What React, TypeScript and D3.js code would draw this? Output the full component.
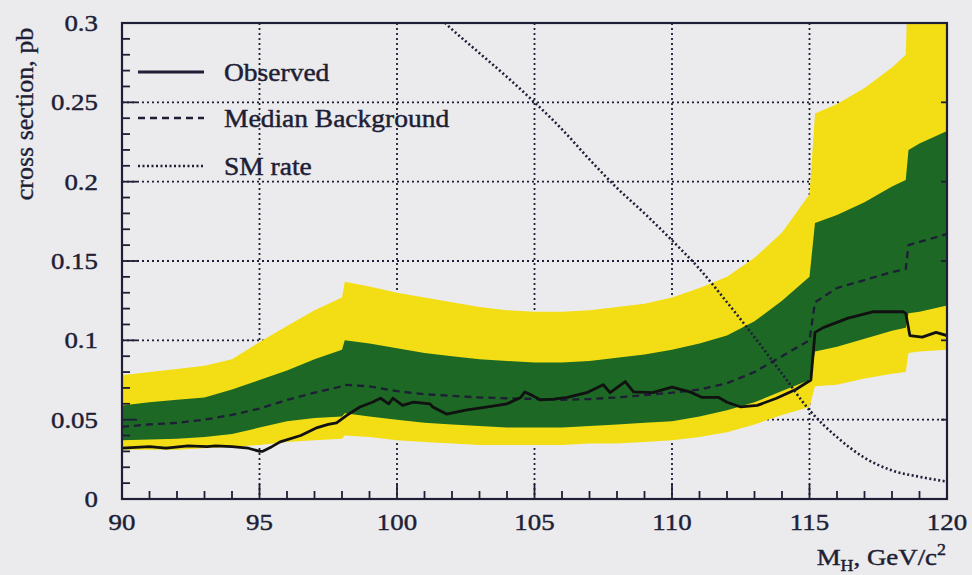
import React from 'react';
import * as d3 from 'd3';

// band grid (Higgs mass, GeV/c^2) – repeated x values give the steps
const massBand = [90, 91, 92, 93, 94, 95, 96, 97, 98, 98.1, 99, 100, 101, 102, 103, 104, 105, 106, 107, 108, 109, 110, 111, 112, 113, 114, 115, 115.2, 116, 117, 118, 118.5, 118.6, 119, 120];
const upper2 = [0.078, 0.080, 0.082, 0.084, 0.088, 0.099, 0.109, 0.119, 0.127, 0.137, 0.134, 0.130, 0.127, 0.124, 0.121, 0.119, 0.118, 0.118, 0.119, 0.121, 0.123, 0.127, 0.133, 0.140, 0.152, 0.168, 0.192, 0.243, 0.249, 0.259, 0.272, 0.280, 0.340, 0.340, 0.340];
const upper1 = [0.059, 0.061, 0.0625, 0.064, 0.069, 0.075, 0.081, 0.088, 0.094, 0.100, 0.098, 0.095, 0.092, 0.090, 0.088, 0.087, 0.086, 0.086, 0.087, 0.089, 0.091, 0.094, 0.098, 0.103, 0.112, 0.125, 0.140, 0.174, 0.179, 0.187, 0.197, 0.201, 0.220, 0.224, 0.232];
const lower1 = [0.037, 0.0375, 0.038, 0.039, 0.041, 0.045, 0.049, 0.051, 0.052, 0.054, 0.052, 0.050, 0.048, 0.047, 0.046, 0.045, 0.045, 0.045, 0.046, 0.047, 0.048, 0.049, 0.052, 0.056, 0.061, 0.068, 0.075, 0.093, 0.096, 0.101, 0.106, 0.108, 0.117, 0.118, 0.122];
const lower2 = [0.031, 0.031, 0.031, 0.032, 0.033, 0.034, 0.036, 0.037, 0.038, 0.040, 0.039, 0.037, 0.036, 0.035, 0.034, 0.034, 0.034, 0.034, 0.035, 0.035, 0.036, 0.037, 0.039, 0.042, 0.047, 0.053, 0.058, 0.071, 0.072, 0.076, 0.079, 0.080, 0.092, 0.093, 0.094];
const median = [0.0455, 0.047, 0.048, 0.050, 0.053, 0.057, 0.0625, 0.067, 0.071, 0.072, 0.071, 0.068, 0.066, 0.065, 0.064, 0.0635, 0.063, 0.0625, 0.063, 0.064, 0.0655, 0.067, 0.069, 0.073, 0.080, 0.090, 0.100, 0.124, 0.133, 0.138, 0.143, 0.145, 0.160, 0.162, 0.167];

const massObs = [90, 90.5, 91, 91.6, 92.4, 93.1, 93.4, 94, 94.6, 95, 95.1, 95.45, 95.75, 96.5, 97.1, 97.5, 97.8, 98.2, 98.65, 99.1, 99.4, 99.7, 99.85, 100.2, 100.6, 101.2, 101.3, 101.8, 102.5, 103.3, 104, 104.5, 104.65, 104.95, 105.2, 105.7, 106.2, 106.9, 107.5, 107.75, 108.3, 108.6, 109.3, 110, 110.65, 111.1, 111.7, 112, 112.5, 113.1, 113.8, 114.5, 115.05, 115.2, 115.5, 116.4, 117.3, 118.4, 118.5, 118.65, 119.1, 119.6, 120];
const observed = [0.032, 0.0325, 0.033, 0.032, 0.0335, 0.033, 0.0335, 0.033, 0.032, 0.030, 0.030, 0.033, 0.036, 0.040, 0.045, 0.047, 0.048, 0.053, 0.058, 0.061, 0.0635, 0.060, 0.0635, 0.059, 0.061, 0.060, 0.058, 0.0535, 0.056, 0.058, 0.060, 0.064, 0.0675, 0.065, 0.0625, 0.063, 0.064, 0.067, 0.072, 0.067, 0.074, 0.0675, 0.067, 0.0705, 0.0675, 0.064, 0.064, 0.061, 0.058, 0.059, 0.0635, 0.069, 0.075, 0.105, 0.108, 0.114, 0.118, 0.118, 0.117, 0.103, 0.102, 0.105, 0.103];

const massSM = [101.5, 102, 103, 104, 105, 106, 107, 108, 109, 110, 111, 112, 113, 114, 115, 116, 117, 118, 119, 120];
const smRate = [0.304, 0.296, 0.281, 0.266, 0.250, 0.233, 0.214, 0.196, 0.180, 0.163, 0.145, 0.124, 0.102, 0.079, 0.056, 0.039, 0.026, 0.018, 0.014, 0.011];

const xTicks = [90, 95, 100, 105, 110, 115, 120];
const yTicks = [0, 0.05, 0.1, 0.15, 0.2, 0.25, 0.3];
const yTickLabels = ['0', '0.05', '0.1', '0.15', '0.2', '0.25', '0.3'];
const legendLabels = ['Observed', 'Median Background', 'SM rate'];

const W = 972;
const H = 575;
const margin = { top: 23, right: 25, bottom: 76, left: 122 };
const ink = '#1e1e36';
const font = '"Liberation Serif", "DejaVu Serif", serif';

// scanned text is a bit wider and heavier than plain Times
function SText(props: { x: number; y: number; size: number; anchor?: string; sx?: number; children: React.ReactNode }) {
  const { x, y, size, anchor = 'start', sx = 1.12, children } = props;
  return (
    <g transform={`translate(${x},${y}) scale(${sx},1)`}>
      <text textAnchor={anchor} fontSize={size} fill={ink} stroke={ink} strokeWidth={0.45} fontFamily={font}>{children}</text>
    </g>
  );
}

export default function App() {
  const iw = W - margin.left - margin.right;
  const ih = H - margin.top - margin.bottom;

  const x = d3.scaleLinear().domain([90, 120]).range([0, iw]);
  const y = d3.scaleLinear().domain([0, 0.3]).range([ih, 0]);

  const band = (lo: number[], hi: number[]) =>
    d3.area<number>()
      .x((_, i) => x(massBand[i]))
      .y0((_, i) => y(lo[i]))
      .y1((_, i) => y(hi[i]))(massBand);

  const lineOf = (xs: number[], ys: number[], curve = d3.curveLinear) =>
    d3.line<number>().x((d) => x(d)).y((_, i) => y(ys[i])).curve(curve)(xs);

  const minorX = d3.range(90, 121, 1);
  const minorY = d3.range(0, 0.3001, 0.01);

  const legendY = [72, 118, 166];
  const legendDash = ['none', '7,5', '2,2.5'];
  const legendWidth = [2.8, 2.3, 2.6];

  return (
    <svg width={W} height={H} style={{ position: 'absolute', left: 0, top: 0, display: 'block' }}>
      <rect width={W} height={H} fill="#ebebed" />
      <defs>
        <clipPath id="plot">
          <rect x={0} y={0} width={iw} height={ih} />
        </clipPath>
      </defs>

      <g transform={`translate(${margin.left},${margin.top})`}>
        {/* grid */}
        {xTicks.slice(1, -1).map((t) => (
          <line key={'gx' + t} x1={x(t)} x2={x(t)} y1={0} y2={ih} stroke={ink} strokeWidth={1.8} strokeDasharray="2,3" />
        ))}
        {yTicks.slice(1, -1).map((t) => (
          <line key={'gy' + t} x1={0} x2={iw} y1={y(t)} y2={y(t)} stroke={ink} strokeWidth={1.8} strokeDasharray="2,3" />
        ))}

        <g clipPath="url(#plot)">
          <path d={band(lower2, upper2) || ''} fill="#f3de16" />
          <path d={band(lower1, upper1) || ''} fill="#1c6824" />
          <path d={lineOf(massBand, median) || ''} fill="none" stroke={ink} strokeWidth={2.3} strokeDasharray="7,5" />
          <path d={lineOf(massObs, observed) || ''} fill="none" stroke="#111" strokeWidth={2.8} strokeLinejoin="round" />
          <path d={lineOf(massSM, smRate, d3.curveMonotoneX) || ''} fill="none" stroke={ink} strokeWidth={2.6} strokeDasharray="2,2.5" />
        </g>

        {/* ticks */}
        {minorX.map((t) => (
          <line key={'tx' + t} x1={x(t)} x2={x(t)} y1={ih} y2={ih - (t % 5 === 0 ? 15 : 8)} stroke={ink} strokeWidth={1.8} />
        ))}
        {minorY.map((t, i) => (
          <line key={'ty' + i} x1={0} x2={i % 5 === 0 ? 15 : 8} y1={y(t)} y2={y(t)} stroke={ink} strokeWidth={1.8} />
        ))}
        {yTicks.map((t) => (
          <line key={'tr' + t} x1={iw} x2={iw - 6} y1={y(t)} y2={y(t)} stroke={ink} strokeWidth={1.8} />
        ))}

        <rect x={0} y={0} width={iw} height={ih} fill="none" stroke={ink} strokeWidth={2.2} />

        {/* tick labels */}
        {yTicks.map((t, i) => (
          <SText key={'ly' + t} x={-24} y={y(t) + 8} size={24} anchor="end">{yTickLabels[i]}</SText>
        ))}
        {xTicks.map((t) => (
          <SText key={'lx' + t} x={x(t)} y={ih + 31} size={24} anchor="middle">{t}</SText>
        ))}

        {/* legend */}
        {legendLabels.map((l, i) => (
          <g key={l}>
            <line x1={16} x2={82} y1={legendY[i] - margin.top} y2={legendY[i] - margin.top} stroke={ink} strokeWidth={legendWidth[i]} strokeDasharray={legendDash[i]} />
            <SText x={102} y={legendY[i] - margin.top + 9} size={25} sx={1.1}>{l}</SText>
          </g>
        ))}
      </g>

      {/* axis titles */}
      <text transform="translate(33,114) rotate(-90)" textAnchor="middle" fontSize={26} fill={ink} stroke={ink} strokeWidth={0.35} fontFamily={font}>
        cross section, pb
      </text>
      <SText x={946} y={565} size={24} anchor="end">
        <tspan>M</tspan>
        <tspan dy={6} fontSize={16}>H</tspan>
        <tspan dy={-6}>, GeV/c</tspan>
        <tspan dy={-10} fontSize={16}>2</tspan>
      </SText>
    </svg>
  );
}
